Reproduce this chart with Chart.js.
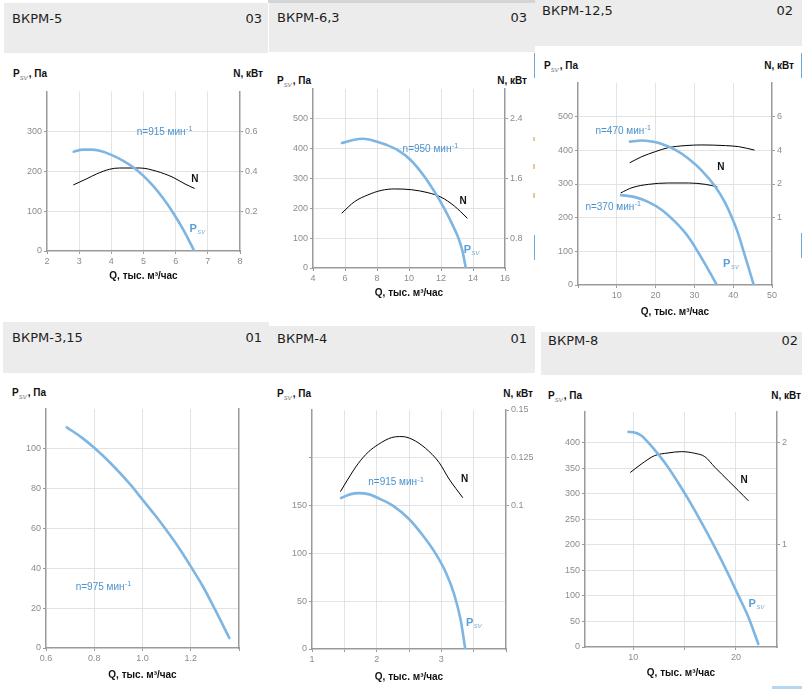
<!DOCTYPE html>
<html><head><meta charset="utf-8">
<script src="https://cdn.jsdelivr.net/npm/chart.js@4/dist/chart.umd.min.js"></script>
<style>
body{margin:0;background:#fff;width:802px;height:689px;overflow:hidden;position:relative;font-family:"Liberation Sans",Arial,sans-serif}
.hd{position:absolute;background:#ececec}
.tt{position:absolute;font:13px "DejaVu Sans",sans-serif;color:#1e1e1e;line-height:13px;white-space:nowrap}
.ul{position:absolute;font:bold 10px "Liberation Sans",Arial,sans-serif;color:#111;line-height:10px;white-space:nowrap}
.ul .sb{font:italic 8px "Liberation Sans",Arial,sans-serif;color:#8a8a8a;position:relative;top:3px;margin-right:1px}
canvas{position:absolute}
.fr{position:absolute}
</style></head><body>

<div class="fr" style="left:268px;top:0;width:267px;height:3px;background:#d4d4d4"></div>
<div class="hd" style="left:4px;top:3px;width:264px;height:50px"></div>
<div class="hd" style="left:269px;top:3px;width:266px;height:49px"></div>
<div class="hd" style="left:535px;top:0;width:267px;height:46px"></div>
<div class="hd" style="left:3px;top:322px;width:266px;height:51px"></div>
<div class="hd" style="left:268px;top:326px;width:267px;height:47px"></div>
<div class="hd" style="left:541px;top:332px;width:261px;height:43px"></div>

<div class="tt" style="left:12px;top:12px">ВКРМ-5</div>
<div class="tt" style="right:540px;top:12px">03</div>
<div class="tt" style="left:277px;top:11px">ВКРМ-6,3</div>
<div class="tt" style="right:275px;top:11px">03</div>
<div class="tt" style="left:542px;top:4px">ВКРМ-12,5</div>
<div class="tt" style="right:9px;top:4px">02</div>
<div class="tt" style="left:12px;top:331px">ВКРМ-3,15</div>
<div class="tt" style="right:540px;top:331px">01</div>
<div class="tt" style="left:277px;top:332px">ВКРМ-4</div>
<div class="tt" style="right:275px;top:332px">01</div>
<div class="tt" style="left:548px;top:334px">ВКРМ-8</div>
<div class="tt" style="right:4px;top:334px">02</div>

<div class="ul" style="left:13px;top:68.5px">P<span class="sb">sv</span>, Па</div>
<div class="ul" style="right:539px;top:68.5px">N, кВт</div>
<div class="ul" style="left:277px;top:75.5px">P<span class="sb">sv</span>, Па</div>
<div class="ul" style="right:275px;top:75.5px">N, кВт</div>
<div class="ul" style="left:544px;top:60.5px">P<span class="sb">sv</span>, Па</div>
<div class="ul" style="right:8px;top:60.5px">N, кВт</div>
<div class="ul" style="left:12px;top:387.5px">P<span class="sb">sv</span>, Па</div>
<div class="ul" style="left:277px;top:388.5px">P<span class="sb">sv</span>, Па</div>
<div class="ul" style="right:269px;top:388.5px">N, кВт</div>
<div class="ul" style="left:548px;top:390.5px">P<span class="sb">sv</span>, Па</div>
<div class="ul" style="right:1px;top:390.5px">N, кВт</div>

<div class="fr" style="left:533.5px;top:53px;width:1.5px;height:25px;background:#6fa8d6"></div>
<div class="fr" style="left:533.5px;top:235px;width:1.5px;height:25px;background:#6fa8d6"></div>
<div class="fr" style="left:533px;top:137px;width:2px;height:4px;background:#e6c79c"></div>
<div class="fr" style="left:533px;top:164px;width:2px;height:5px;background:#e6c79c"></div>
<div class="fr" style="left:533px;top:193px;width:2px;height:5px;background:#e6c79c"></div>
<div class="fr" style="left:800.5px;top:53px;width:1.5px;height:25px;background:#6fa8d6"></div>
<div class="fr" style="left:800.5px;top:233px;width:1.5px;height:25px;background:#6fa8d6"></div>
<div class="fr" style="left:772px;top:686px;width:30px;height:3px;background:#b5d7f2"></div>

<canvas id="c5"></canvas>
<canvas id="c63"></canvas>
<canvas id="c125"></canvas>
<canvas id="c315"></canvas>
<canvas id="c4"></canvas>
<canvas id="c8"></canvas>

<script>
// ---------- DATA ----------
// ВКРМ-5 (n=915)
const q5P = [2.83, 3.12, 3.38, 3.64, 4.0, 4.37, 4.68, 4.99, 5.30, 5.61, 5.92, 6.24, 6.58];
const p5  = [249, 254, 254, 251, 241, 226, 210, 189, 163, 132, 96, 53, 0];
const q5N = [2.83, 3.22, 3.54, 3.95, 4.26, 4.89, 5.40, 5.92, 6.29, 6.58];
const n5  = [0.332, 0.361, 0.386, 0.410, 0.416, 0.416, 0.400, 0.369, 0.336, 0.314];
const x5Ticks = [2, 3, 4, 5, 6, 7, 8];
const x5Labels = ['2', '3', '4', '5', '6', '7', '8'];
const y5Ticks = [0, 100, 200, 300];
const y5Labels = ['0', '100', '200', '300'];
const r5Ticks = [0.2, 0.4, 0.6];
const r5Labels = ['0.2', '0.4', '0.6'];

// ВКРМ-6,3 (n=950)
const q63P = [5.81, 6.5, 7.12, 7.85, 8.58, 9.3, 10.1, 10.97, 11.6, 12.2, 12.7, 13.09, 13.35, 13.55];
const p63  = [419, 429, 433, 426, 413, 395, 362, 306, 255, 200, 147, 100, 55, 0];
const q63N = [5.81, 6.6, 7.43, 8.26, 9.10, 10.14, 11.18, 12.0, 12.84, 13.63];
const n63  = [1.137, 1.29, 1.38, 1.44, 1.46, 1.45, 1.41, 1.35, 1.23, 1.07];
const x63Ticks = [4, 6, 8, 10, 12, 14, 16];
const x63Labels = ['4', '6', '8', '10', '12', '14', '16'];
const y63Ticks = [0, 100, 200, 300, 400, 500];
const y63Labels = ['0', '100', '200', '300', '400', '500'];
const r63Ticks = [0.8, 1.6, 2.4];
const r63Labels = ['0.8', '1.6', '2.4'];

// ВКРМ-12,5 (n=470 and n=370)
const q125P470 = [13.4, 16.4, 19.0, 21.6, 25.0, 28.5, 31.9, 35.4, 37.8, 39.7, 41.3, 42.6, 44.0, 45.3];
const p125P470 = [426, 429, 426, 419, 402, 375, 340, 292, 247, 200, 152, 103, 50, 0];
const q125P370 = [11.1, 14.7, 18.2, 21.6, 25.0, 28.5, 31.9, 34.1, 35.8];
const p125P370 = [267, 261, 246, 223, 188, 142, 79, 35, 0];
const q125N470 = [13.4, 16.4, 19.9, 23.3, 27.6, 31.9, 38.0, 41.4, 45.4];
const n125N470 = [3.27, 3.62, 3.92, 4.16, 4.28, 4.32, 4.28, 4.22, 4.02];
const q125N370 = [11.1, 13.9, 18.2, 23.3, 28.5, 32.8, 35.8];
const n125N370 = [1.48, 1.78, 1.98, 2.06, 2.06, 1.98, 1.84];
const x125Ticks = [0, 10, 20, 30, 40, 50];
const x125Labels = ['', '10', '20', '30', '40', '50'];
const y125Ticks = [0, 100, 200, 300, 400, 500];
const y125Labels = ['0', '100', '200', '300', '400', '500'];
const r125Ticks = [0, 2, 4, 6];
const r125Labels = ['1', '2', '4', '6'];

// ВКРМ-3,15 (n=975)
const q315P = [0.686, 0.75, 0.8, 0.87, 0.95, 1.0, 1.05, 1.1, 1.15, 1.2, 1.25, 1.3, 1.36];
const p315  = [110.8, 105.5, 100.5, 92.5, 82, 74.5, 67, 59, 50.5, 41, 31, 19.5, 5];
const x315Ticks = [0.6, 0.8, 1.0, 1.2, 1.4];
const x315Labels = ['0.6', '0.8', '1.0', '1.2', ''];
const y315Ticks = [0, 20, 40, 60, 80, 100];
const y315Labels = ['0', '20', '40', '60', '80', '100'];

// ВКРМ-4 (n=915)
const q4P = [1.45, 1.6, 1.72, 1.87, 2.05, 2.25, 2.5, 2.7, 2.91, 3.07, 3.2, 3.3, 3.37];
const p4  = [158, 162, 163, 162, 157, 150, 136, 120, 100, 80, 57, 30, 0];
const q4N = [1.443, 1.557, 1.714, 1.87, 2.026, 2.234, 2.39, 2.547, 2.755, 2.964, 3.12, 3.328];
const n4  = [0.1075, 0.1139, 0.122, 0.128, 0.132, 0.1356, 0.1361, 0.1347, 0.130, 0.1226, 0.1139, 0.1043];
const x4Ticks = [1, 1.5, 2, 2.5, 3, 3.5, 4];
const x4Labels = ['1', '', '2', '', '3', '', ''];
const y4Ticks = [0, 50, 100, 150, 200];
const y4Labels = ['0', '50', '100', '150', ''];
const r4Ticks = [0.1, 0.125, 0.15];
const r4Labels = ['0.1', '0.125', '0.15'];

// ВКРМ-8
const q8P = [9.54, 10.13, 10.78, 11.43, 12.41, 13.39, 14.36, 15.34, 16.64, 17.95, 19.25, 20.23, 21.2, 22.18];
const p8  = [421, 420, 414, 401, 378, 352, 322, 290, 244, 195, 143, 101, 59, 6];
const q8N = [9.74, 10.78, 12.08, 13.39, 14.69, 15.99, 16.97, 17.95, 19.25, 20.23, 21.2];
const n8  = [1.71, 1.79, 1.873, 1.899, 1.912, 1.896, 1.863, 1.759, 1.629, 1.531, 1.433];
const x8Ticks = [10, 15, 20];
const x8Labels = ['10', '', '20'];
const y8Ticks = [0, 50, 100, 150, 200, 250, 300, 350, 400];
const y8Labels = ['0', '50', '100', '150', '200', '250', '300', '350', '400'];
const r8Ticks = [1, 2];
const r8Labels = ['1', '2'];

// ---------- STYLE ----------
const LINE_BLUE = '#7db5e3';
const TXT_BLUE = '#4b92cc';
const GRID = '#e3e3e3';
const AXIS = '#9a9a9a';
const TICKTXT = '#8c8c8c';
const XTITLE = 'Q, тыс. м³/час';

function pts(xs, ys) { return xs.map((x, i) => ({x: x, y: ys[i]})); }

function scale(o) {
  const s = {
    type: 'linear', position: o.pos, min: o.min, max: o.max,
    afterBuildTicks: sc => { sc.ticks = o.vals.map(v => ({value: v})); },
    afterFit: sc => { if (o.w != null) sc.width = o.w; if (o.h != null) sc.height = o.h; },
    ticks: {
      display: true, color: TICKTXT, font: {family: 'Liberation Sans', size: 9},
      padding: 2, autoSkip: false, maxRotation: 0, minRotation: 0,
      callback: (v, i) => o.labels[i]
    },
    grid: {
      display: true, drawOnChartArea: !!o.grid, tickLength: 3, lineWidth: 1, tickColor: AXIS,
      color: c => (c.tick && (c.tick.value === o.min || c.tick.value === o.max)) ? 'rgba(0,0,0,0)' : GRID
    },
    border: {display: true, color: AXIS, width: 1.5}
  };
  if (o.title) {
    s.title = {display: true, text: o.title, color: '#111', padding: 0,
      font: {family: 'Liberation Sans', size: 10, weight: 'bold', lineHeight: 1.2}};
  }
  return s;
}

function notesPlugin(items) {
  return {
    id: 'notes',
    afterDatasetsDraw(chart) {
      const ctx = chart.ctx;
      items.forEach(n => {
        const x = chart.scales.x.getPixelForValue(n.x);
        const y = chart.scales.y.getPixelForValue(n.y);
        ctx.save();
        ctx.textBaseline = 'middle';
        if (n.kind === 'n') {
          ctx.font = '10px "Liberation Sans"'; ctx.fillStyle = TXT_BLUE; ctx.textAlign = 'left';
          ctx.fillText(n.text, x, y);
          const w = ctx.measureText(n.text).width;
          ctx.font = '7px "Liberation Sans"';
          ctx.fillText('-1', x + w + 0.5, y - 3);
        } else if (n.kind === 'N') {
          ctx.font = 'bold 10px "Liberation Sans"'; ctx.fillStyle = '#111'; ctx.textAlign = 'center';
          ctx.fillText('N', x, y);
        } else {
          ctx.font = 'bold 11px "Liberation Sans"'; ctx.fillStyle = '#5a9fd8'; ctx.textAlign = 'left';
          ctx.fillText('P', x, y);
          const w = ctx.measureText('P').width;
          ctx.font = 'italic 8px "Liberation Sans"'; ctx.fillStyle = '#86b6de';
          ctx.fillText('sv', x + w + 0.5, y + 3);
        }
        ctx.restore();
      });
    }
  };
}

function panel(id, box, area, cfg) {
  const cv = document.getElementById(id);
  cv.width = box.w; cv.height = box.h;
  cv.style.left = box.l + 'px'; cv.style.top = box.t + 'px';
  const yW = area.L - box.l, y2W = box.l + box.w - area.R;
  const padTop = area.T - box.t, xH = box.t + box.h - area.B;
  const datasets = cfg.series.map(s => ({
    data: pts(s.x, s.y), yAxisID: s.axis, borderColor: s.color, borderWidth: s.width,
    pointRadius: 0, cubicInterpolationMode: 'monotone', fill: false,
    borderCapStyle: 'round', borderJoinStyle: 'round'
  }));
  new Chart(cv, {
    type: 'line',
    data: {datasets: datasets},
    options: {
      responsive: false, animation: false, events: [], devicePixelRatio: 1,
      layout: {padding: {top: padTop, left: 0, right: 0, bottom: 0}, autoPadding: false},
      plugins: {legend: {display: false}, tooltip: {enabled: false}, title: {display: false}},
      scales: {
        x: scale(Object.assign({pos: 'bottom', grid: true, h: xH, title: XTITLE}, cfg.x)),
        y: scale(Object.assign({pos: 'left', grid: true, w: yW}, cfg.y)),
        y2: scale(Object.assign({pos: 'right', grid: false, w: y2W}, cfg.y2))
      }
    },
    plugins: [notesPlugin(cfg.notes)]
  });
}

const P = (x, y, axis) => ({x: x, y: y, axis: axis || 'y', color: LINE_BLUE, width: 2.6});
const N = (x, y) => ({x: x, y: y, axis: 'y2', color: '#000', width: 1});

panel('c5', {l: 2, t: 84, w: 266, h: 198}, {L: 47, R: 240, T: 91, B: 251}, {
  series: [P(q5P, p5), N(q5N, n5)],
  x: {min: 2, max: 8, vals: x5Ticks, labels: x5Labels},
  y: {min: 0, max: 400, vals: y5Ticks, labels: y5Labels},
  y2: {min: 0, max: 0.8, vals: r5Ticks, labels: r5Labels},
  notes: [{kind: 'n', text: 'n=915 мин', x: 4.79, y: 298}, {kind: 'N', x: 6.6, y: 180}, {kind: 'P', x: 6.43, y: 56}]
});

panel('c63', {l: 270, t: 80, w: 265, h: 219}, {L: 313, R: 505, T: 89, B: 268}, {
  series: [P(q63P, p63), N(q63N, n63)],
  x: {min: 4, max: 16, vals: x63Ticks, labels: x63Labels},
  y: {min: 0, max: 600, vals: y63Ticks, labels: y63Labels},
  y2: {min: 0.4, max: 2.8, vals: r63Ticks, labels: r63Labels},
  notes: [{kind: 'n', text: 'n=950 мин', x: 9.6, y: 399}, {kind: 'N', x: 13.38, y: 224}, {kind: 'P', x: 13.42, y: 60}]
});

panel('c125', {l: 537, t: 75, w: 263, h: 243}, {L: 578, R: 772, T: 83, B: 285}, {
  series: [P(q125P470, p125P470), P(q125P370, p125P370), N(q125N470, n125N470), N(q125N370, n125N370)],
  x: {min: 0, max: 50, vals: x125Ticks, labels: x125Labels},
  y: {min: 0, max: 600, vals: y125Ticks, labels: y125Labels},
  y2: {min: -4, max: 8, vals: r125Ticks, labels: r125Labels},
  notes: [{kind: 'n', text: 'n=470 мин', x: 4.49, y: 456}, {kind: 'n', text: 'n=370 мин', x: 1.91, y: 232},
          {kind: 'N', x: 36.8, y: 351}, {kind: 'P', x: 37.4, y: 63}]
});

panel('c315', {l: 2, t: 400, w: 266, h: 281}, {L: 46, R: 239, T: 409, B: 648}, {
  series: [P(q315P, p315)],
  x: {min: 0.6, max: 1.4, vals: x315Ticks, labels: x315Labels},
  y: {min: 0, max: 120, vals: y315Ticks, labels: y315Labels},
  y2: {min: 0, max: 1, vals: [], labels: []},
  notes: [{kind: 'n', text: 'n=975 мин', x: 0.723, y: 30.6}]
});

panel('c4', {l: 270, t: 400, w: 265, h: 283}, {L: 312, R: 506, T: 410, B: 649}, {
  series: [P(q4P, p4), N(q4N, n4)],
  x: {min: 1, max: 4, vals: x4Ticks, labels: x4Labels},
  y: {min: 0, max: 250, vals: y4Ticks, labels: y4Labels},
  y2: {min: 0.025, max: 0.15, vals: r4Ticks, labels: r4Labels},
  notes: [{kind: 'n', text: 'n=915 мин', x: 1.87, y: 174}, {kind: 'N', x: 3.36, y: 178}, {kind: 'P', x: 3.38, y: 27}]
});

panel('c8', {l: 540, t: 402, w: 262, h: 277}, {L: 585, R: 777, T: 412, B: 647}, {
  series: [P(q8P, p8), N(q8N, n8)],
  x: {min: 5.3, max: 24, vals: x8Ticks, labels: x8Labels},
  y: {min: 0, max: 460, vals: y8Ticks, labels: y8Labels},
  y2: {min: 0, max: 2.3, vals: r8Ticks, labels: r8Labels},
  notes: [{kind: 'N', x: 20.8, y: 326}, {kind: 'P', x: 21.23, y: 84}]
});
</script>
</body></html>
